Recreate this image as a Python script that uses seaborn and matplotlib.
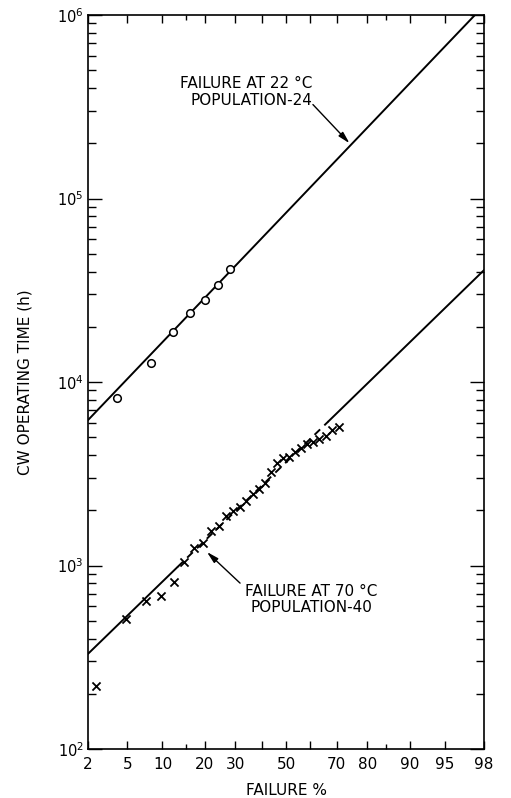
#!/usr/bin/env python3
# -*- coding: utf-8 -*-

#------------------
# IMPORTS
#------------------
from statistics import NormalDist
import numpy as np
import matplotlib
matplotlib.use('Agg')
import matplotlib.pyplot as plt
import matplotlib.ticker as ticker
import seaborn as sns

# --------------------
# DATA
# --------------------
# failure at 22 C, population 24 (open circles), plotting position i/(n+1)
pct_22 = [4, 8, 12, 16, 20, 24, 28]
hours_22 = [8150, 12650, 18800, 23900, 27900, 33800, 41400]

# failure at 70 C, population 40 (crosses)
pct_70 = [2.44, 4.88, 7.32, 9.76, 12.2, 14.6, 17.1, 19.5, 21.95, 24.4,
          26.8, 29.3, 31.7, 34.1, 36.6, 39.0, 41.5, 43.9, 46.3, 48.8,
          51.2, 53.7, 56.1, 58.5, 61.0, 63.4, 65.9, 68.3, 70.7]
hours_70 = [220, 510, 640, 680, 810, 1050, 1250, 1330, 1540, 1640,
            1860, 1980, 2090, 2250, 2440, 2610, 2830, 3250, 3600, 3840,
            3900, 4150, 4350, 4570, 4730, 4900, 5080, 5500, 5700]

fit_22_pct = [2, 97.5]
fit_22_hours = [6200, 1.0e6]
fit_70_pct = [2, 13, 67, 98]
fit_70_hours = [330, 980, 6100, 40700]

x_ticks = [2, 5, 10, 20, 30, 40, 50, 60, 70, 80, 90, 95, 98]
x_ticklabels = ['2', '5', '10', '20', '30', '', '50', '', '70', '80', '90', '95', '98']
x_minor_ticks = [15, 85]

# --------------------
# FUNCTIONS
# --------------------
NORM = NormalDist()
_ppf = np.vectorize(NORM.inv_cdf, otypes=[float])
_cdf = np.vectorize(NORM.cdf, otypes=[float])


def prob_forward(p):
    p = np.clip(np.asarray(p, dtype=float) / 100.0, 1e-9, 1 - 1e-9)
    return _ppf(p)


def prob_inverse(z):
    return _cdf(np.asarray(z, dtype=float)) * 100.0


def fit_line(ax, x, y, ls='-'):
    sns.lineplot(x=x, y=y, color='black', lw=1.4, linestyle=ls,
                 estimator=None, sort=False, ax=ax)


# --------------------
# MAIN PROGRAM
# --------------------
if __name__ == "__main__":

    sns.set_style('ticks')
    plt.rcParams['font.family'] = ['DejaVu Sans']
    plt.rcParams['mathtext.default'] = 'regular'
    for key in ['text.color', 'axes.labelcolor', 'xtick.color', 'ytick.color', 'axes.edgecolor']:
        plt.rcParams[key] = 'black'

    fig, ax = plt.subplots(figsize=(5.11, 7.98), dpi=100)
    ax.set_position([88 / 511, 49 / 798, 396 / 511, 734 / 798])
    ax.set_xscale('function', functions=(prob_forward, prob_inverse))
    ax.set_yscale('log')

    # fitted lines
    fit_line(ax, fit_22_pct, fit_22_hours)
    fit_line(ax, fit_70_pct[0:2], fit_70_hours[0:2])
    fit_line(ax, fit_70_pct[1:3], fit_70_hours[1:3], ls=(0, (4, 3)))
    fit_line(ax, fit_70_pct[2:4], fit_70_hours[2:4])

    # data points
    sns.scatterplot(x=pct_22, y=hours_22, marker='o', s=30, color='white',
                    edgecolor='black', linewidth=1.1, zorder=3, ax=ax)
    sns.scatterplot(x=pct_70, y=hours_70, marker='x', s=34, color='black',
                    linewidth=1.3, zorder=3, ax=ax)

    # axes
    ax.set_xlim(2, 98)
    ax.set_ylim(1e2, 1e6)
    ax.xaxis.set_major_locator(ticker.FixedLocator(x_ticks))
    ax.xaxis.set_major_formatter(ticker.FixedFormatter(x_ticklabels))
    ax.xaxis.set_minor_locator(ticker.FixedLocator(x_minor_ticks))
    ax.xaxis.set_minor_formatter(ticker.NullFormatter())
    ax.yaxis.set_major_locator(ticker.LogLocator(base=10))
    ax.yaxis.set_minor_locator(ticker.LogLocator(base=10, subs=np.arange(2, 10)))
    ax.yaxis.set_minor_formatter(ticker.NullFormatter())

    ax.tick_params(which='both', direction='in', top=True, right=True,
                   color='black', labelcolor='black')
    ax.tick_params(axis='x', which='major', length=6, width=1.0, pad=5.5, labelsize=11)
    ax.tick_params(axis='x', which='minor', length=3.5, width=1.0)
    ax.tick_params(axis='y', which='major', length=10, width=1.0, pad=3, labelsize=10.5)
    ax.tick_params(axis='y', which='minor', length=6, width=1.0)
    for side in ax.spines.values():
        side.set_linewidth(1.2)
        side.set_color('black')

    ax.set_xlabel('FAILURE %', fontsize=11, color='black')
    ax.set_ylabel('CW OPERATING TIME (h)', fontsize=11, color='black')
    ax.xaxis.set_label_coords(0.5, -0.047)
    ax.yaxis.set_label_coords(-0.139, 0.5)

    # annotations
    ax.text(0.5657, 0.895, 'FAILURE AT 22 °C\nPOPULATION-24', transform=ax.transAxes,
            ha='right', va='center', multialignment='right', fontsize=11,
            linespacing=1.1, color='black')
    ax.annotate('', xy=(74.5, 2.0e5), xytext=(0.568, 0.878), textcoords='axes fraction',
                arrowprops=dict(arrowstyle='-|>,head_length=0.7,head_width=0.18',
                                color='black', lw=1.0, shrinkA=0, shrinkB=0))
    ax.text(0.396, 0.204, 'FAILURE AT 70 °C\nPOPULATION-40', transform=ax.transAxes,
            ha='left', va='center', multialignment='center', fontsize=11,
            linespacing=1.1, color='black')
    ax.annotate('', xy=(20.6, 1185), xytext=(0.384, 0.226), textcoords='axes fraction',
                arrowprops=dict(arrowstyle='-|>,head_length=0.7,head_width=0.18',
                                color='black', lw=1.0, shrinkA=0, shrinkB=0))

    fig.savefig('out.png', dpi=100)
    plt.close()
